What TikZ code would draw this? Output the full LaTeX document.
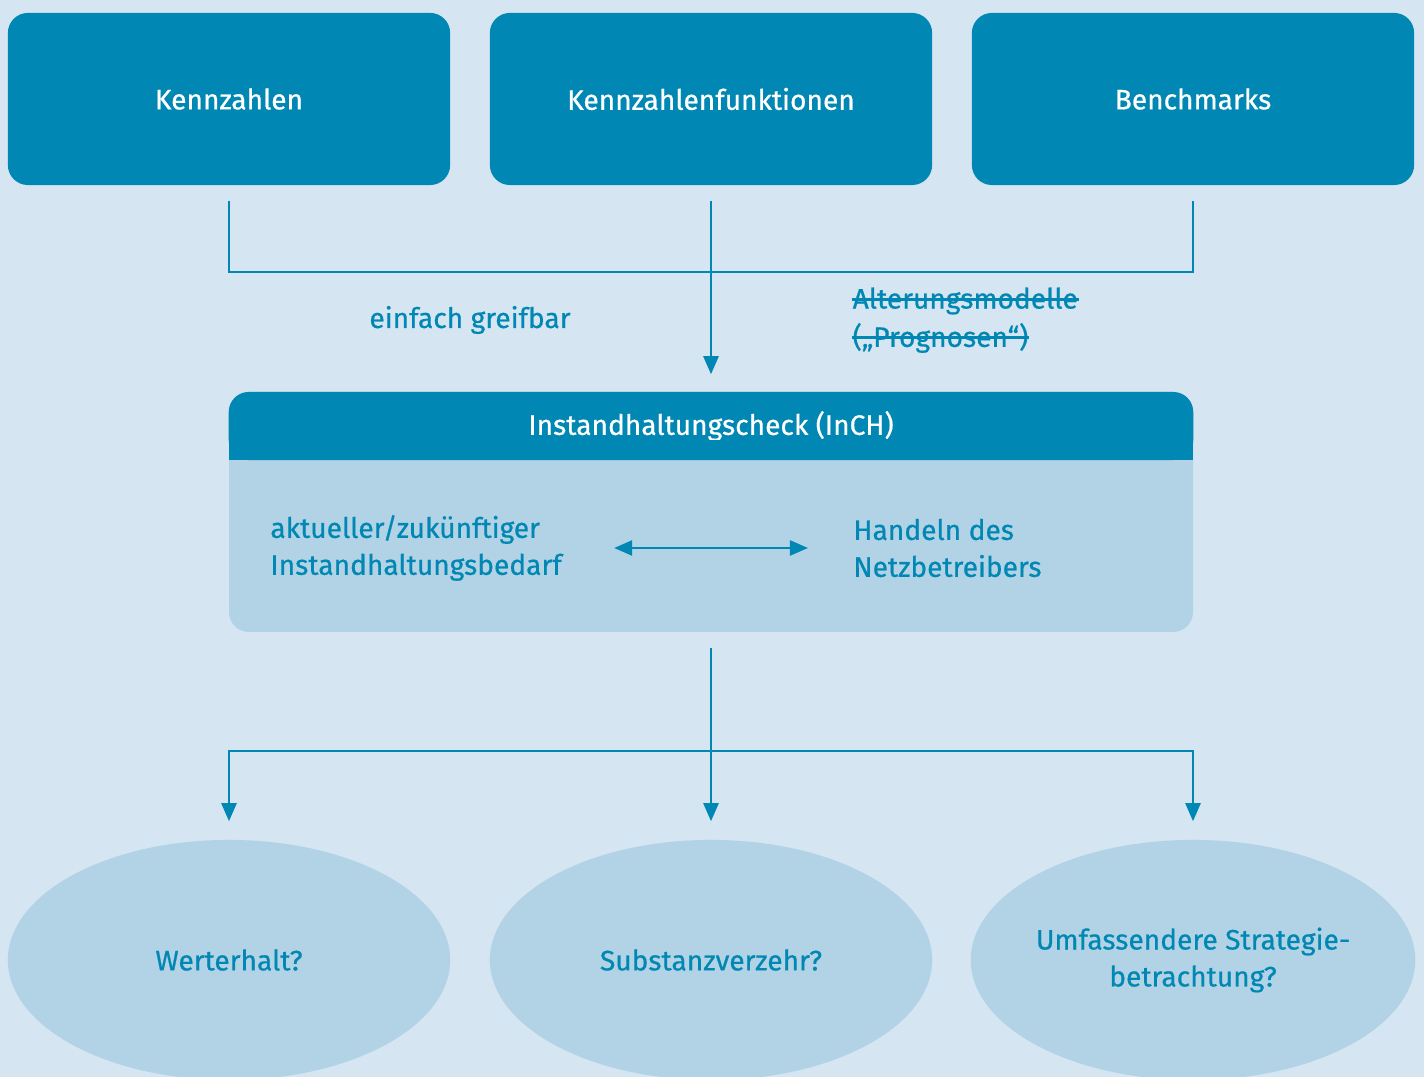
\documentclass[tikz,border=0pt]{standalone}
\usepackage{fontspec}
\setmainfont{Fira Sans}[FakeBold=0.6]
\usetikzlibrary{arrows.meta,shapes.geometric}

\definecolor{inchblue}{HTML}{0087B3}
\definecolor{inchlight}{HTML}{B1D3E5}
\definecolor{inchbg}{HTML}{D5E5F1}

\begin{document}
\begin{tikzpicture}[x=0.01cm,y=-0.01cm,
    topbox/.style={fill=inchblue,rounded corners=2mm,minimum width=4.42cm,minimum height=1.72cm,text=white},
    goal/.style={ellipse,fill=inchlight,minimum width=4.42cm,minimum height=2.4cm,inner sep=0pt,text=inchblue,align=center},
    conn/.style={draw=inchblue,line width=0.7pt},
    tip/.style={-{Triangle[length=1.8mm,width=1.5mm]}},
    struck/.style={anchor=west,text=inchblue,inner xsep=0pt}]

    \fill[inchbg] (0,0) rectangle (1424,1077);
    \clip (0,0) rectangle (1424,1077);

    \begin{scope}[font=\fontsize{8}{10.5}\selectfont]

        \node[topbox] (kz)  at (229,99)  {Kennzahlen};
        \node[topbox] (kzf) at (711,99)  {Kennzahlenfunktionen};
        \node[topbox] (bm)  at (1193,99) {Benchmarks};

        % Instandhaltungscheck
        \fill[inchlight,rounded corners=2mm] (229,392) rectangle (1193,632);
        \node[topbox,minimum width=9.64cm,minimum height=0.68cm] (inch) at (711,426) {Instandhaltungscheck (InCH)};
        \fill[inchblue] (229,440) rectangle (1193,460);

        \node[anchor=west,align=left,text=inchblue] (need) at (258,548) {aktueller/zukünftiger\\Instandhaltungsbedarf};
        \node[anchor=west,align=left,text=inchblue] (act)  at (841,548) {Handeln des\\Netzbetreibers};

        \node[goal] (g1) at (229,960)  {Werterhalt?};
        \node[goal] (g2) at (711,960)  {Substanzverzehr?};
        \node[goal] (g3) at (1193,960) {Umfassendere Strategie-\\betrachtung?};

        \node[text=inchblue] (easy) at (470,320) {einfach greifbar};
        \node[struck] (aging)  at (852,301) {Alterungsmodelle};
        \node[struck] (prog)   at (852,338) {(„Prognosen“)};
        \draw[conn,line width=0.8pt] (aging.mid west) -- (aging.mid east);
        \draw[conn,line width=0.8pt] (prog.mid west) -- (prog.mid east);

        % Verbindungen
        \coordinate (kzend)  at ([yshift=-0.15cm]kz.south);
        \coordinate (kzfend) at ([yshift=-0.15cm]kzf.south);
        \coordinate (bmend)  at ([yshift=-0.15cm]bm.south);
        \coordinate (jtop)   at (711,272);
        \draw[conn] (kzend) |- (jtop) -| (bmend);
        \draw[conn,tip] (kzfend) -- ([yshift=0.17cm]inch.north);

        \draw[conn,{Triangle[length=1.8mm,width=1.5mm]}-{Triangle[length=1.8mm,width=1.5mm]}]
            ([xshift=0.4cm]need.east) -- ([xshift=-0.33cm]act.west);

        \coordinate (bstart) at (711,648);
        \coordinate (jbot)   at (711,751);
        \draw[conn,tip] (bstart) -- ([yshift=0.18cm]g2.north);
        \draw[conn,tip] (jbot) -| ([yshift=0.18cm]g1.north);
        \draw[conn,tip] (jbot) -| ([yshift=0.18cm]g3.north);
    \end{scope}

\end{tikzpicture}
\end{document}
